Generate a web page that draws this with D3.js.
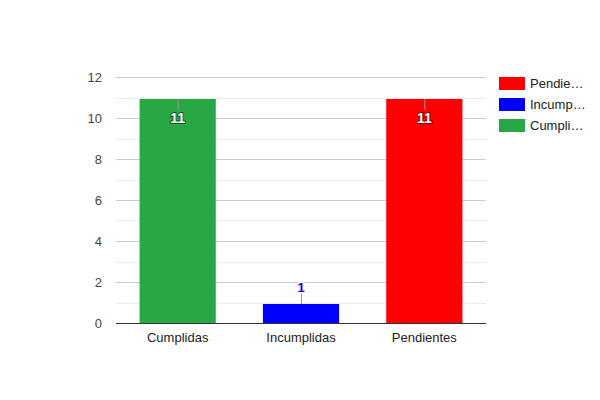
<!DOCTYPE html>
<html>
<head>
<meta charset="utf-8">
<script src="https://cdn.jsdelivr.net/npm/d3@7"></script>
<style>
  body { margin: 0; background: #fff; }
  text { font-family: Arial, "Liberation Sans", sans-serif; }
</style>
</head>
<body>
<div id="chart"></div>
<script>
// data
var categories = ["Cumplidas", "Incumplidas", "Pendientes"];
var values = [11, 1, 11];
var barColors = ["#28a745", "#0000ff", "#ff0000"];
var legendLabels = ["Pendie\u2026", "Incump\u2026", "Cumpli\u2026"];
var legendColors = ["#ff0000", "#0000ff", "#28a745"];
var yTicks = [0, 2, 4, 6, 8, 10, 12];
var yMinor = [1, 3, 5, 7, 9, 11];

var width = 600, height = 400;
var areaLeft = 116, areaRight = 486, areaTop = 77, areaBottom = 323;

var svg = d3.select("#chart").append("svg")
	.attr("width", width)
	.attr("height", height);

var x = d3.scaleBand()
	.domain(categories)
	.range([areaLeft, areaRight])
	.paddingInner(0.382)
	.paddingOuter(0.191);

var y = d3.scaleLinear()
	.domain([0, 12])
	.range([areaBottom, areaTop]);

// minor gridlines
svg.append("g").selectAll("line")
	.data(yMinor)
	.enter().append("line")
	.attr("x1", areaLeft).attr("x2", areaRight)
	.attr("y1", function(d) { return Math.round(y(d)) + 0.5; })
	.attr("y2", function(d) { return Math.round(y(d)) + 0.5; })
	.attr("stroke", "#ebebeb");

// major gridlines
svg.append("g").selectAll("line")
	.data(yTicks.filter(function(d) { return d > 0; }))
	.enter().append("line")
	.attr("x1", areaLeft).attr("x2", areaRight)
	.attr("y1", function(d) { return Math.round(y(d)) + 0.5; })
	.attr("y2", function(d) { return Math.round(y(d)) + 0.5; })
	.attr("stroke", "#cccccc");

// y axis labels
var yAxis = d3.axisLeft(y).tickValues(yTicks).tickSize(0).tickPadding(14);
var gy = svg.append("g")
	.attr("transform", "translate(" + areaLeft + ",0)")
	.call(yAxis);
gy.select(".domain").remove();
gy.selectAll("text")
	.attr("font-size", 13)
	.attr("fill", "#444")
	.attr("font-family", "Arial, 'Liberation Sans', sans-serif");

// bars
svg.append("g").selectAll("rect")
	.data(values)
	.enter().append("rect")
	.attr("x", function(d, i) { return x(categories[i]); })
	.attr("y", function(d) { return Math.round(y(d)) + 1; })
	.attr("width", x.bandwidth())
	.attr("height", function(d) { return areaBottom - Math.round(y(d)) - 1; })
	.attr("fill", function(d, i) { return barColors[i]; });

// baseline
svg.append("line")
	.attr("x1", areaLeft).attr("x2", areaRight)
	.attr("y1", areaBottom + 0.5).attr("y2", areaBottom + 0.5)
	.attr("stroke", "#333");

// x axis labels
var xAxis = d3.axisBottom(x).tickSize(0).tickPadding(10);
var gx = svg.append("g")
	.attr("transform", "translate(0," + areaBottom + ")")
	.call(xAxis);
gx.select(".domain").remove();
gx.selectAll("text")
	.attr("font-size", 13)
	.attr("fill", "#222")
	.attr("font-family", "Arial, 'Liberation Sans', sans-serif");

// annotations
var ann = svg.append("g");
values.forEach(function(v, i) {
	var cx = x(categories[i]) + x.bandwidth() / 2;
	var yTop = Math.round(y(v)) + 1;
	var inside = (areaBottom - y(v)) > 40;
	if (inside) {
		ann.append("line")
			.attr("x1", cx + 0.5).attr("x2", cx + 0.5)
			.attr("y1", yTop).attr("y2", yTop + 11)
			.attr("stroke", "#999");
		ann.append("text")
			.attr("x", cx).attr("y", yTop + 24)
			.attr("text-anchor", "middle")
			.attr("font-size", 14)
			.attr("font-weight", "bold")
			.attr("fill", "#fff")
			.attr("stroke", d3.color(barColors[i]).darker(2))
			.attr("stroke-width", 1.8)
			.attr("paint-order", "stroke")
			.text(v);
	} else {
		ann.append("line")
			.attr("x1", cx + 0.5).attr("x2", cx + 0.5)
			.attr("y1", yTop).attr("y2", yTop - 11)
			.attr("stroke", "#999");
		ann.append("text")
			.attr("x", cx).attr("y", yTop - 12)
			.attr("text-anchor", "middle")
			.attr("font-size", 13)
			.attr("font-weight", "bold")
			.attr("fill", barColors[i])
			.attr("stroke", "#fff")
			.attr("stroke-width", 3)
			.attr("paint-order", "stroke")
			.text(v);
	}
});

// legend
var legend = svg.append("g");
legendLabels.forEach(function(l, i) {
	var ly = 77 + i * 21;
	legend.append("rect")
		.attr("x", 499).attr("y", ly)
		.attr("width", 26).attr("height", 13)
		.attr("fill", legendColors[i]);
	legend.append("text")
		.attr("x", 530).attr("y", ly + 11)
		.attr("font-size", 13)
		.attr("fill", "#222")
		.text(l);
});
</script>
</body>
</html>
